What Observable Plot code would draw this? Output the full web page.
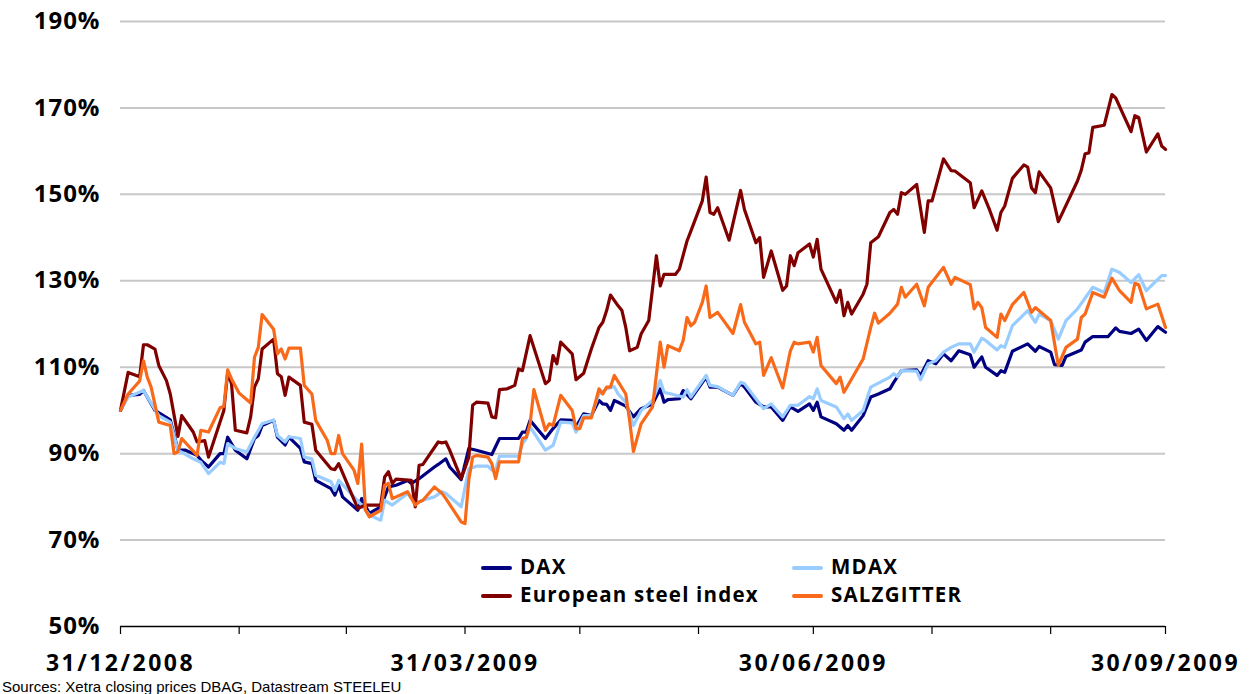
<!DOCTYPE html>
<html>
<head>
<meta charset="utf-8">
<script src="https://cdn.jsdelivr.net/npm/d3@7"></script>
<script src="https://cdn.jsdelivr.net/npm/@observablehq/plot@0.6"></script>
<style>
  html, body { margin: 0; padding: 0; background: #fff; }
  #wrap { position: relative; width: 1250px; height: 694px; font-family: "Open Sans", sans-serif; }
  #chart svg [aria-label="y-axis tick label"] text { letter-spacing: 1px; }
  #chart svg [aria-label="x-axis tick label"] text { letter-spacing: 2.5px; }
  .leg { position: absolute; font-size: 20.5px; font-weight: bold; color: #000; white-space: nowrap; line-height: 28px; letter-spacing: 1.2px; }
  .leg span.sw { display: inline-block; width: 31px; height: 4px; border-radius: 2px; vertical-align: middle; margin-right: 8px; position: relative; top: -1px; }
  #caption { position: absolute; left: 2px; top: 679px; font-family: "Liberation Sans", sans-serif; font-size: 15px; line-height: 15px; color: #000; white-space: nowrap; }
</style>
</head>
<body>
<div id="wrap">
  <div id="chart"></div>
  <div id="legend"></div>
  <div id="caption">Sources: Xetra closing prices DBAG, Datastream STEELEU</div>
</div>
<script>
const seriesNames = ["DAX", "MDAX", "European steel index", "SALZGITTER"];
const seriesColors = ["#000080", "#99ccff", "#800000", "#f86a1a"];

const yTicks = [50, 70, 90, 110, 130, 150, 170, 190];
const monthEnds = ["2008-12-31","2009-01-31","2009-02-28","2009-03-31","2009-04-30","2009-05-31","2009-06-30","2009-07-31","2009-08-31","2009-09-30"];
const labelDates = ["2008-12-31","2009-03-31","2009-06-30","2009-09-30"];
const tickLabels = ["31/12/2008","31/03/2009","30/06/2009","30/09/2009"];

const dax = [["2008-12-31",100],["2009-01-02",103.5],["2009-01-05",103.7],["2009-01-06",104.6],["2009-01-09",100],["2009-01-13",97.8],["2009-01-15",90.9],["2009-01-17",90.8],["2009-01-20",89.6],["2009-01-21",88.5],["2009-01-23",86.9],["2009-01-26",90],["2009-01-27",90],["2009-01-28",93.8],["2009-01-30",90.8],["2009-02-02",88.8],["2009-02-04",93.5],["2009-02-05",94.2],["2009-02-06",96.5],["2009-02-09",97.7],["2009-02-10",93.8],["2009-02-12",92],["2009-02-13",93.8],["2009-02-16",91.2],["2009-02-17",88.1],["2009-02-19",87.7],["2009-02-20",83.8],["2009-02-24",81.9],["2009-02-25",80.4],["2009-02-26",82.7],["2009-02-27",80],["2009-03-03",76.9],["2009-03-04",79.6],["2009-03-06",76.2],["2009-03-09",77.7],["2009-03-11",82.3],["2009-03-13",82.7],["2009-03-16",83.8],["2009-03-17",83.1],["2009-03-19",84.2],["2009-03-23",86.9],["2009-03-24",87.5],["2009-03-26",88.8],["2009-03-27",86.9],["2009-03-30",84],["2009-04-01",91.2],["2009-04-03",90.8],["2009-04-07",89.8],["2009-04-09",93.5],["2009-04-14",93.5],["2009-04-15",95],["2009-04-16",95],["2009-04-17",97.7],["2009-04-21",93.5],["2009-04-23",95.8],["2009-04-25",97.8],["2009-04-28",97.7],["2009-04-29",96.2],["2009-05-01",99.2],["2009-05-03",98.8],["2009-05-05",102.3],["2009-05-06",101.5],["2009-05-07",101.4],["2009-05-08",100],["2009-05-09",102.3],["2009-05-10",101.9],["2009-05-12",101],["2009-05-14",98.5],["2009-05-16",100.4],["2009-05-19",101.5],["2009-05-21",105],["2009-05-22",101.9],["2009-05-23",102.5],["2009-05-26",102.7],["2009-05-27",104.6],["2009-05-29",102.7],["2009-06-02",107.7],["2009-06-03",105.4],["2009-06-05",105.4],["2009-06-09",103.5],["2009-06-11",106.2],["2009-06-12",105.4],["2009-06-15",101.9],["2009-06-17",100.8],["2009-06-19",100.8],["2009-06-22",97.7],["2009-06-24",100.8],["2009-06-26",99.8],["2009-06-29",101.5],["2009-06-30",100],["2009-07-01",101.9],["2009-07-02",98.5],["2009-07-06",96.9],["2009-07-08",95.4],["2009-07-09",96.5],["2009-07-10",95.4],["2009-07-13",98.8],["2009-07-15",103.1],["2009-07-17",103.8],["2009-07-20",105],["2009-07-21",106.5],["2009-07-23",109.2],["2009-07-27",109.4],["2009-07-28",108.1],["2009-07-30",111.5],["2009-08-01",110.8],["2009-08-03",113.1],["2009-08-05",111.5],["2009-08-07",113.8],["2009-08-10",112.9],["2009-08-11",110],["2009-08-13",112.4],["2009-08-14",110],["2009-08-17",108.1],["2009-08-18",109.2],["2009-08-19",108.8],["2009-08-21",113.7],["2009-08-25",115.4],["2009-08-27",113.7],["2009-08-28",114.8],["2009-08-31",113.5],["2009-09-01",110.6],["2009-09-03",110.4],["2009-09-04",112.5],["2009-09-08",114],["2009-09-09",115.8],["2009-09-11",117.1],["2009-09-15",117.1],["2009-09-17",119.1],["2009-09-18",118.3],["2009-09-21",117.8],["2009-09-23",118.8],["2009-09-25",116.2],["2009-09-28",119.4],["2009-09-30",118.1]];

const mdax = [["2008-12-31",100],["2009-01-02",103.1],["2009-01-06",104.6],["2009-01-10",98.8],["2009-01-13",97.3],["2009-01-15",90.8],["2009-01-19",88.8],["2009-01-21",88],["2009-01-23",85.4],["2009-01-26",88],["2009-01-27",87.7],["2009-01-28",92.3],["2009-01-30",91.2],["2009-02-02",90.4],["2009-02-04",93.8],["2009-02-06",96.9],["2009-02-09",97.8],["2009-02-10",94.2],["2009-02-12",92.7],["2009-02-13",93.9],["2009-02-16",93.5],["2009-02-17",89.2],["2009-02-19",88.8],["2009-02-20",85],["2009-02-24",83.5],["2009-02-25",81.5],["2009-02-26",83.8],["2009-03-02",80],["2009-03-04",78.1],["2009-03-06",75.8],["2009-03-09",74.6],["2009-03-10",79.2],["2009-03-12",78.1],["2009-03-16",80.8],["2009-03-18",78.5],["2009-03-20",79.2],["2009-03-23",80],["2009-03-25",81.2],["2009-03-26",80.8],["2009-03-30",77.7],["2009-04-01",86.5],["2009-04-03",87.1],["2009-04-06",87.1],["2009-04-07",86.2],["2009-04-08",86.2],["2009-04-09",89.4],["2009-04-14",89.4],["2009-04-15",92.3],["2009-04-16",93.5],["2009-04-17",96.2],["2009-04-21",90.8],["2009-04-23",91.9],["2009-04-25",97.3],["2009-04-28",97.1],["2009-04-29",95],["2009-05-01",98.8],["2009-05-03",98.8],["2009-05-05",103.8],["2009-05-07",105],["2009-05-09",105.5],["2009-05-10",103.8],["2009-05-12",101.9],["2009-05-14",96.5],["2009-05-16",100],["2009-05-19",102.3],["2009-05-21",106.9],["2009-05-22",104.2],["2009-05-27",103.1],["2009-05-28",104.8],["2009-05-29",103.1],["2009-06-02",108.1],["2009-06-03",105.8],["2009-06-05",105.5],["2009-06-09",103.5],["2009-06-11",106.5],["2009-06-12",106.2],["2009-06-15",102.7],["2009-06-17",100.4],["2009-06-19",101.5],["2009-06-22",98.5],["2009-06-24",101.2],["2009-06-26",101.2],["2009-06-29",103.2],["2009-06-30",102.7],["2009-07-01",105],["2009-07-02",102.3],["2009-07-06",100.8],["2009-07-08",98.1],["2009-07-09",99.2],["2009-07-10",97.7],["2009-07-13",100],["2009-07-15",105.4],["2009-07-20",107.7],["2009-07-21",108.5],["2009-07-22",107.8],["2009-07-23",109.2],["2009-07-27",109.1],["2009-07-28",107.1],["2009-07-30",110.8],["2009-08-01",111.5],["2009-08-03",113.5],["2009-08-05",114.6],["2009-08-07",115.4],["2009-08-10",115.4],["2009-08-11",113.5],["2009-08-13",116.7],["2009-08-14",116.2],["2009-08-17",114],["2009-08-18",115],["2009-08-19",114.6],["2009-08-21",119.6],["2009-08-25",123.1],["2009-08-27",120.4],["2009-08-28",122.3],["2009-08-31",120.8],["2009-09-02",116.5],["2009-09-04",120.8],["2009-09-07",123.5],["2009-09-11",128.5],["2009-09-14",127.3],["2009-09-16",132.7],["2009-09-18",131.9],["2009-09-21",129.6],["2009-09-23",131.4],["2009-09-25",127.7],["2009-09-29",131.2],["2009-09-30",131.2]];

const steel = [["2008-12-31",100],["2009-01-02",108.8],["2009-01-05",107.8],["2009-01-06",115.2],["2009-01-07",115.2],["2009-01-09",114.2],["2009-01-10",110.4],["2009-01-12",106.9],["2009-01-13",103.8],["2009-01-15",94],["2009-01-16",98.8],["2009-01-19",95],["2009-01-20",92.7],["2009-01-22",93],["2009-01-23",89.2],["2009-01-25",94.6],["2009-01-27",100],["2009-01-28",108.8],["2009-01-29",106.2],["2009-01-30",95.4],["2009-02-02",94.8],["2009-02-03",98.5],["2009-02-04",105.4],["2009-02-05",107.3],["2009-02-06",114.2],["2009-02-09",116.5],["2009-02-10",108.5],["2009-02-11",107.8],["2009-02-12",103.5],["2009-02-13",107.7],["2009-02-16",105.8],["2009-02-17",97.3],["2009-02-19",96.8],["2009-02-20",90.8],["2009-02-24",86.5],["2009-02-25",86.3],["2009-02-26",87.7],["2009-03-03",77.3],["2009-03-05",78.1],["2009-03-09",78.1],["2009-03-10",84.6],["2009-03-11",85.8],["2009-03-12",83.1],["2009-03-13",84.1],["2009-03-17",83.8],["2009-03-18",77.7],["2009-03-19",87.3],["2009-03-20",87.5],["2009-03-24",92.7],["2009-03-25",92.5],["2009-03-26",92.7],["2009-03-27",90.8],["2009-03-30",84.2],["2009-04-01",89.2],["2009-04-02",101.2],["2009-04-03",101.9],["2009-04-06",101.7],["2009-04-07",98.5],["2009-04-08",98.3],["2009-04-09",104.8],["2009-04-11",105],["2009-04-13",105.8],["2009-04-14",109.6],["2009-04-15",109.2],["2009-04-17",117.3],["2009-04-21",106.2],["2009-04-22",106.9],["2009-04-23",112.7],["2009-04-24",110.8],["2009-04-25",115.8],["2009-04-28",113.1],["2009-04-29",107.1],["2009-05-01",108.6],["2009-05-03",114.2],["2009-05-05",119.2],["2009-05-06",120.4],["2009-05-07",123.1],["2009-05-08",126.7],["2009-05-10",124.2],["2009-05-11",123.1],["2009-05-12",119.2],["2009-05-13",113.8],["2009-05-15",114.6],["2009-05-16",117.7],["2009-05-18",120.8],["2009-05-20",135.8],["2009-05-21",128.8],["2009-05-22",131.5],["2009-05-25",131.5],["2009-05-26",132.7],["2009-05-28",139.2],["2009-05-29",141.5],["2009-06-01",148.5],["2009-06-02",154],["2009-06-03",145.8],["2009-06-04",145.4],["2009-06-05",146.9],["2009-06-08",139.4],["2009-06-11",150.9],["2009-06-12",146.5],["2009-06-15",138.8],["2009-06-16",140],["2009-06-17",130.8],["2009-06-19",136.9],["2009-06-22",127.8],["2009-06-23",128.8],["2009-06-24",135.8],["2009-06-25",133.5],["2009-06-26",136.5],["2009-06-29",138.5],["2009-06-30",135.5],["2009-07-01",139.6],["2009-07-02",132.7],["2009-07-06",125],["2009-07-07",127.8],["2009-07-08",121.9],["2009-07-09",125],["2009-07-10",122.3],["2009-07-13",126.9],["2009-07-14",129.2],["2009-07-15",138.8],["2009-07-17",140.2],["2009-07-20",145.8],["2009-07-21",146.5],["2009-07-22",145.4],["2009-07-23",150.4],["2009-07-24",150],["2009-07-27",152.3],["2009-07-29",141.2],["2009-07-30",148.5],["2009-07-31",148.5],["2009-08-03",158.2],["2009-08-05",155.5],["2009-08-06",155.4],["2009-08-10",152.7],["2009-08-11",146.9],["2009-08-13",150.8],["2009-08-15",146.5],["2009-08-17",141.7],["2009-08-18",145.8],["2009-08-19",147.3],["2009-08-21",153.7],["2009-08-24",156.8],["2009-08-25",156.3],["2009-08-26",151.5],["2009-08-27",150.4],["2009-08-28",155.2],["2009-08-31",151.5],["2009-09-02",143.7],["2009-09-07",153.1],["2009-09-08",155.6],["2009-09-09",159.4],["2009-09-10",159.6],["2009-09-11",165.5],["2009-09-14",166],["2009-09-16",173.1],["2009-09-17",172.3],["2009-09-21",164.5],["2009-09-22",168.2],["2009-09-23",167.8],["2009-09-25",159.8],["2009-09-28",164],["2009-09-29",161.2],["2009-09-30",160.4]];

const salzgitter = [["2008-12-31",100],["2009-01-02",103.8],["2009-01-05",106.8],["2009-01-06",111.5],["2009-01-07",107.7],["2009-01-08",105.4],["2009-01-10",97.3],["2009-01-13",96.5],["2009-01-14",90],["2009-01-15",90.4],["2009-01-16",93.5],["2009-01-20",89.6],["2009-01-21",95.4],["2009-01-23",95],["2009-01-26",100.6],["2009-01-27",100.9],["2009-01-28",109.4],["2009-01-29",107.3],["2009-01-31",104],["2009-02-03",101.7],["2009-02-04",112.3],["2009-02-05",114.6],["2009-02-06",122.2],["2009-02-09",118.8],["2009-02-10",113.1],["2009-02-11",114.2],["2009-02-12",111.9],["2009-02-13",114.4],["2009-02-16",114.4],["2009-02-17",105.8],["2009-02-19",103.8],["2009-02-20",97.7],["2009-02-23",93.1],["2009-02-24",90],["2009-02-25",90],["2009-02-26",94.2],["2009-02-27",90],["2009-03-02",86.2],["2009-03-03",83.1],["2009-03-04",92.2],["2009-03-05",76.9],["2009-03-06",75.4],["2009-03-09",76.9],["2009-03-10",82.7],["2009-03-11",83.1],["2009-03-12",79.6],["2009-03-16",81.2],["2009-03-18",78.1],["2009-03-19",78.8],["2009-03-20",79.2],["2009-03-23",82.3],["2009-03-25",80.8],["2009-03-26",79.6],["2009-03-30",74.2],["2009-03-31",73.8],["2009-04-01",84],["2009-04-02",89.2],["2009-04-03",89.6],["2009-04-06",89.2],["2009-04-07",87.7],["2009-04-08",84.2],["2009-04-09",88.1],["2009-04-14",88.1],["2009-04-15",93.5],["2009-04-16",93.8],["2009-04-17",96.9],["2009-04-18",104.8],["2009-04-21",95.4],["2009-04-22",96.9],["2009-04-23",96.5],["2009-04-25",103.5],["2009-04-28",100],["2009-04-29",95.8],["2009-04-30",95.8],["2009-05-01",98.3],["2009-05-03",98.3],["2009-05-05",105],["2009-05-06",103.8],["2009-05-07",105.4],["2009-05-08",105.4],["2009-05-09",108.1],["2009-05-12",103.8],["2009-05-13",97.7],["2009-05-14",90.5],["2009-05-16",96.9],["2009-05-19",100.8],["2009-05-21",115.8],["2009-05-22",110],["2009-05-23",115],["2009-05-26",113.8],["2009-05-27",116.2],["2009-05-28",121.5],["2009-05-29",119.6],["2009-05-30",120.4],["2009-06-01",125],["2009-06-02",128.8],["2009-06-03",121.5],["2009-06-05",122.7],["2009-06-09",117.8],["2009-06-11",124.5],["2009-06-12",120.4],["2009-06-15",115.4],["2009-06-16",115.8],["2009-06-17",108.1],["2009-06-19",112.2],["2009-06-22",105.2],["2009-06-24",113.8],["2009-06-25",115.8],["2009-06-26",115.4],["2009-06-29",115.8],["2009-06-30",113.5],["2009-07-01",116.9],["2009-07-02",110.4],["2009-07-06",106.2],["2009-07-07",107.7],["2009-07-08",104.2],["2009-07-13",111.9],["2009-07-15",119.2],["2009-07-16",122.5],["2009-07-17",120.2],["2009-07-20",122.5],["2009-07-22",124.6],["2009-07-23",128.5],["2009-07-24",126.2],["2009-07-27",129.2],["2009-07-29",124.2],["2009-07-30",128.5],["2009-08-03",133.1],["2009-08-05",129.2],["2009-08-06",130.8],["2009-08-10",129.1],["2009-08-11",123.5],["2009-08-12",125],["2009-08-13",123.8],["2009-08-14",119.2],["2009-08-17",116.9],["2009-08-18",122.3],["2009-08-19",120.8],["2009-08-21",124.5],["2009-08-24",127.3],["2009-08-26",122.7],["2009-08-27",123.8],["2009-08-31",120.8],["2009-09-02",110.4],["2009-09-04",114.6],["2009-09-07",116.5],["2009-09-08",121.5],["2009-09-09",122.3],["2009-09-11",127.3],["2009-09-14",126.2],["2009-09-16",130.6],["2009-09-18",127.7],["2009-09-21",125],["2009-09-22",129.4],["2009-09-23",129.1],["2009-09-25",123.5],["2009-09-28",124.6],["2009-09-30",119.2]];

const seriesData = [dax, mdax, steel, salzgitter];
const rows = seriesData.flatMap((arr, k) => arr.map(([d, v]) => ({series: seriesNames[k], date: new Date(d), value: v})));
const labelMap = new Map(labelDates.map((d, i) => [d, tickLabels[i]]));

const chart = Plot.plot({
  width: 1250,
  height: 676,
  marginLeft: 120,
  marginRight: 85,
  marginTop: 21,
  marginBottom: 50,
  style: {fontFamily: "'Open Sans', sans-serif", color: "#000", background: "#fff", overflow: "visible"},
  x: {type: "utc", domain: [new Date(monthEnds[0]), new Date(monthEnds[monthEnds.length - 1])], label: null},
  y: {domain: [yTicks[0], yTicks[yTicks.length - 1]], label: null},
  color: {domain: seriesNames, range: seriesColors},
  marks: [
    Plot.gridY(yTicks.slice(1), {stroke: "#c8c8c8", strokeOpacity: 1, strokeWidth: 2}),
    Plot.axisY({ticks: yTicks, tickSize: 0, tickPadding: 20, tickFormat: d => d + "%", fontSize: 24, fontWeight: "bold", label: null}),
    Plot.axisX({ticks: monthEnds.map(d => new Date(d)), tickFormat: () => "", tickSize: 8, stroke: "#000", strokeWidth: 1.2, label: null}),
    Plot.axisX({ticks: labelDates.map(d => new Date(d)), tickFormat: d => labelMap.get(d.toISOString().slice(0, 10)), tickSize: 0, tickPadding: 28, fontSize: 23, fontWeight: "bold", label: null}),
    Plot.ruleY([yTicks[0]], {stroke: "#000", strokeWidth: 1.5}),
    Plot.line(rows, {x: "date", y: "value", z: "series", stroke: "series", strokeWidth: 3.2, strokeLinejoin: "round"})
  ]
});
document.getElementById("chart").appendChild(chart);

// legend (2 x 2)
const legendPos = [[481, 552], [792, 552], [481, 580], [792, 580]];
const legend = document.getElementById("legend");
seriesNames.forEach((name, i) => {
  const el = document.createElement("div");
  el.className = "leg";
  el.style.left = legendPos[i][0] + "px";
  el.style.top = legendPos[i][1] + "px";
  el.innerHTML = `<span class="sw" style="background:${seriesColors[i]}"></span>${name}`;
  legend.appendChild(el);
});
</script>
</body>
</html>
